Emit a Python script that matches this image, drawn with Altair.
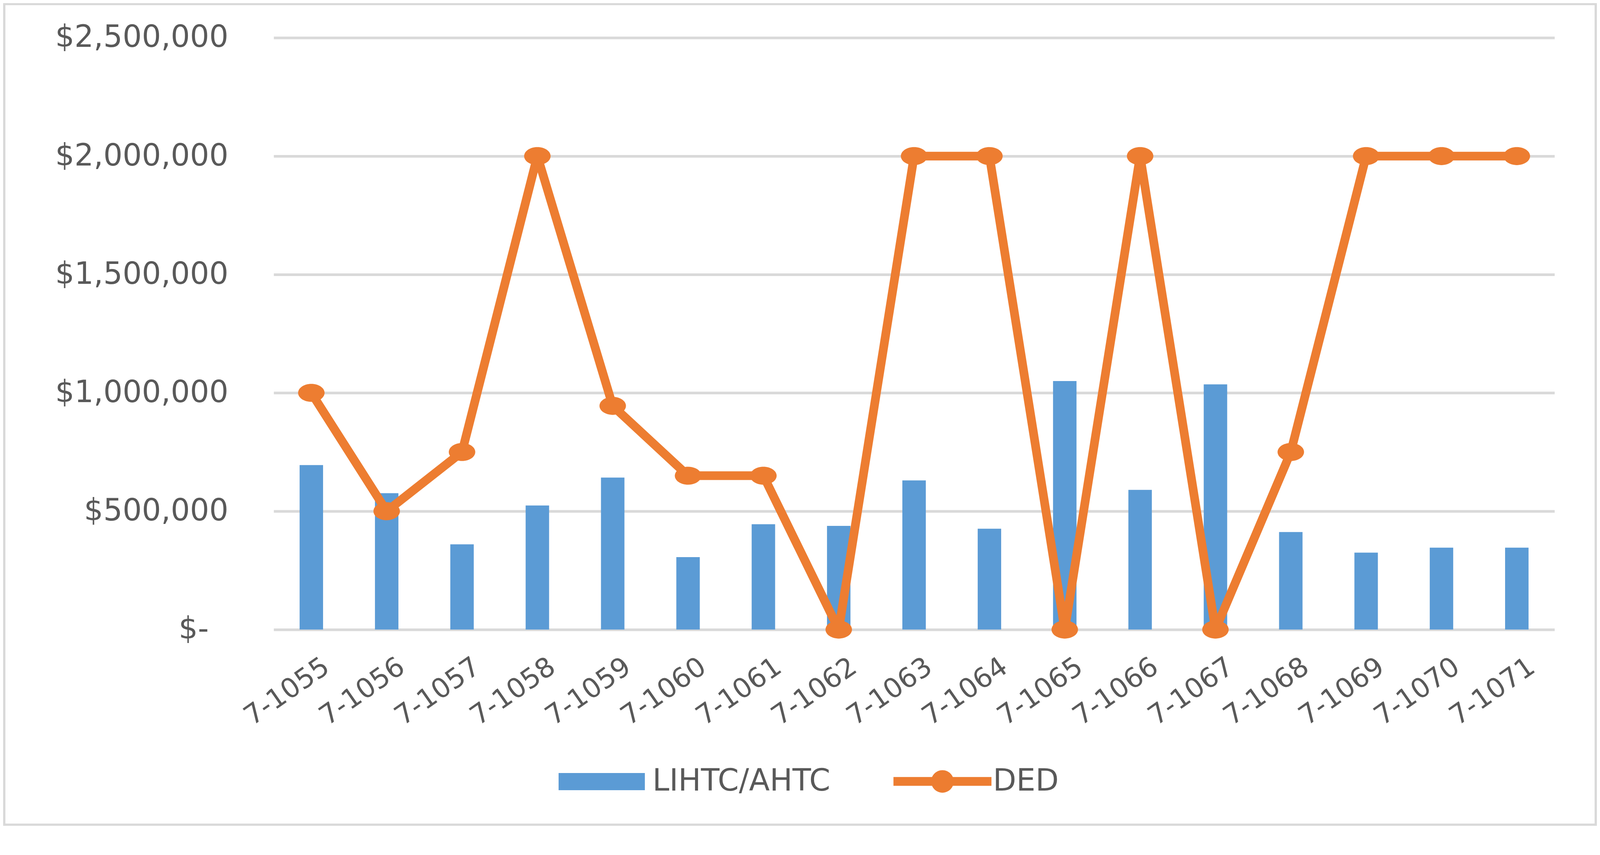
import altair as alt
import pandas as pd

projects = ["7-1055", "7-1056", "7-1057", "7-1058", "7-1059", "7-1060", "7-1061", "7-1062",
            "7-1063", "7-1064", "7-1065", "7-1066", "7-1067", "7-1068", "7-1069", "7-1070", "7-1071"]
lihtc = [695000, 576000, 360000, 524000, 642000, 306000, 445000, 438000,
         630000, 426000, 1050000, 590000, 1036000, 412000, 325000, 346000, 346000]
ded = [1000000, 500000, 750000, 2000000, 945000, 650000, 650000, 0,
       2000000, 2000000, 0, 2000000, 0, 750000, 2000000, 2000000, 2000000]
y_ticks = [0, 500000, 1000000, 1500000, 2000000, 2500000]

BLUE = "#5B9BD5"
ORANGE = "#ED7D31"
TEXT = "#595959"
GRID = "#D9D9D9"
FONT = "DejaVu Sans"

W, H = 3385, 1565
PAD = {"left": 715, "top": 57, "right": 112, "bottom": 512}

bars_df = pd.DataFrame({"project": projects, "value": lihtc, "series": "LIHTC/AHTC"})
ded_df = pd.DataFrame({"project": projects, "value": ded, "series": "DED"})

x_enc = alt.X(
    "project:N", sort=projects, title=None,
    scale=alt.Scale(paddingInner=0.685, paddingOuter=0.3425),
    axis=alt.Axis(labelAngle=-35, labelFontSize=72, labelFont=FONT, labelColor=TEXT,
                  labelPadding=62, labelOffset=20, ticks=False, domain=False, grid=False,
                  labelOverlap=False, labelLimit=0),
)
y_enc = alt.Y(
    "value:Q", title=None,
    scale=alt.Scale(domain=[0, 2500000], nice=False),
    axis=alt.Axis(values=y_ticks, labelFontSize=80, labelFont=FONT, labelColor=TEXT,
                  labelPadding={"condition": {"test": "datum.value == 0", "value": 172}, "value": 120},
                  ticks=False, domain=False, grid=True,
                  gridColor=GRID, gridWidth=7, labelLimit=0,
                  labelExpr="datum.value == 0 ? '$-' : '$' + format(datum.value, ',')"),
)

rect_path = "M-1,-0.2H1V0.2H-1Z"
ded_legend_path = ("M-1,-0.089H1V0.089H-1Z "
                   "M-0.23,0A0.23,0.23,0,1,1,0.23,0A0.23,0.23,0,1,1,-0.23,0Z")
ellipse_path = "M-1,0A1,0.68,0,1,1,1,0A1,0.68,0,1,1,-1,0Z"

bars = alt.Chart(bars_df).mark_bar(size=62).encode(
    x=x_enc, y=y_enc,
    color=alt.Color("series:N", scale=alt.Scale(domain=["LIHTC/AHTC"], range=[BLUE]),
                    legend=alt.Legend(orient="none", legendX=753, legendY=1853, title=None,
                                      symbolType=rect_path, symbolSize=51984,
                                      symbolStrokeWidth=0, symbolOpacity=1, padding=0,
                                      labelFont=FONT, labelFontSize=80, labelColor=TEXT,
                                      labelOffset=20, labelLimit=0)),
)

line = alt.Chart(ded_df).mark_line(color=ORANGE, strokeWidth=23, strokeJoin="round").encode(
    x=x_enc, y=y_enc,
)

points = alt.Chart(ded_df).mark_point(shape=ellipse_path, filled=True, size=4900, opacity=1).encode(
    x=x_enc, y=y_enc,
    color=alt.Color("series:N", scale=alt.Scale(domain=["DED"], range=[ORANGE]),
                    legend=alt.Legend(orient="none", legendX=1638, legendY=1837, title=None,
                                      symbolType=ded_legend_path, symbolSize=67081,
                                      symbolStrokeWidth=0, symbolOpacity=1, padding=0,
                                      labelFont=FONT, labelFontSize=80, labelColor=TEXT,
                                      labelOffset=4, labelLimit=0)),
)

border = alt.Chart(pd.DataFrame({"a": [0]})).mark_rect(
    fill="transparent", stroke=GRID, strokeWidth=6
).encode(
    x=alt.value(-712), x2=alt.value(W + PAD["right"] - 3),
    y=alt.value(-89), y2=alt.value(H + PAD["bottom"] + 4),
)

chart = alt.layer(bars, line, points, border).resolve_scale(color="independent").properties(
    width=W, height=H, padding=PAD,
    autosize=alt.AutoSizeParams(type="none"),
    background="white",
).configure_view(stroke=None)

chart.save("out.html", embed_options={"renderer": "svg", "actions": False})
